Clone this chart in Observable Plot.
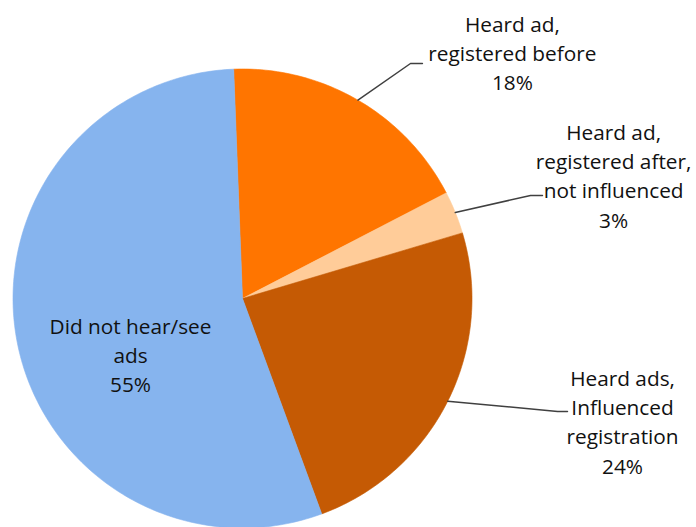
<!DOCTYPE html>
<html>
<head>
<meta charset="utf-8">
<script src="https://cdn.jsdelivr.net/npm/d3@7"></script>
<script src="https://cdn.jsdelivr.net/npm/@observablehq/plot@0.6"></script>
<style>
  html, body { margin: 0; padding: 0; background: #fff; }
</style>
</head>
<body>
<div id="chart"></div>
<script>
// Data
const categories = [
  "Heard ad, registered before",
  "Heard ad, registered after, not influenced",
  "Heard ads, Influenced registration",
  "Did not hear/see ads"
];
const labelTexts = [
  "Heard ad,\nregistered before\n18%",
  "Heard ad,\nregistered after,\nnot influenced\n3%",
  "Heard ads,\nInfluenced\nregistration\n24%",
  "Did not hear/see\nads\n55%"
];
const values = [18, 3, 24, 55];
const colors = ["#FF7500", "#FFCC99", "#C55A04", "#86B4EE"];

// Layout (in radius units around the pie centre)
const startAngle = -2.2; // degrees from north, clockwise
const labelPos = [[1.176, 1.076], [1.617, 0.540], [1.656, -0.532], [-0.488, -0.240]];
const leaderElbow = [[0.732, 1.024, 0.784], [1.255, 0.449, 1.307], [1.373, -0.492, 1.416], null];

const W = 696, H = 527, R = 229.5, CX = 242, CY = 298;
const total = d3.sum(values);

const slicePts = [];
const leaders = [];
let a0 = startAngle;
values.forEach((v, i) => {
  const span = v / total * 360;
  const a1 = a0 + span;
  slicePts.push({cat: categories[i], x: 0, y: 0});
  const n = Math.max(2, Math.ceil(span));
  for (let k = 0; k <= n; k++) {
    const a = (a0 + span * k / n) * Math.PI / 180;
    slicePts.push({cat: categories[i], x: Math.sin(a), y: Math.cos(a)});
  }
  slicePts.push({cat: categories[i], x: 0, y: 0});
  const mid = (a0 + span / 2) * Math.PI / 180;
  if (leaderElbow[i]) {
    const [ex, ey, endx] = leaderElbow[i];
    leaders.push({k: i, x: Math.sin(mid), y: Math.cos(mid)});
    leaders.push({k: i, x: ex, y: ey});
    leaders.push({k: i, x: endx, y: ey});
  }
  a0 = a1;
});

const labels = labelTexts.map((t, i) => ({text: t, x: labelPos[i][0], y: labelPos[i][1]}));

const chart = Plot.plot({
  width: W,
  height: H,
  margin: 0,
  x: {domain: [-CX / R, (W - CX) / R], axis: null},
  y: {domain: [-(H - CY) / R, CY / R], axis: null},
  color: {domain: categories, range: colors},
  style: {fontFamily: "'Open Sans', sans-serif", background: "#fff"},
  marks: [
    Plot.line(slicePts, {x: "x", y: "y", z: "cat", fill: "cat", stroke: "cat", strokeWidth: 0.6, curve: "linear"}),
    Plot.line(leaders, {x: "x", y: "y", z: "k", stroke: "#404040", strokeWidth: 1.5}),
    Plot.text(labels, {x: "x", y: "y", text: "text", fontSize: 20.8, lineHeight: 1.4, fill: "#111", textAnchor: "middle", lineAnchor: "middle"})
  ]
});
document.getElementById("chart").appendChild(chart);
</script>
</body>
</html>
